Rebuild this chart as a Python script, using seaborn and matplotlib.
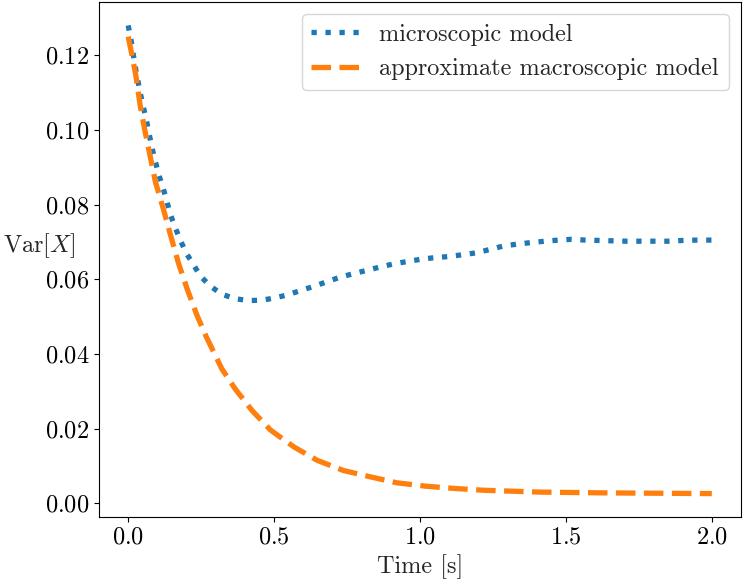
import numpy as np
import pandas as pd
import matplotlib
matplotlib.use("Agg")
import matplotlib.pyplot as plt
import seaborn as sns

# values
micro_t = [0.0, 0.01, 0.024, 0.041, 0.064, 0.081, 0.104, 0.119, 0.132, 0.144,
           0.161, 0.178, 0.199, 0.224, 0.247, 0.281, 0.321, 0.366, 0.412, 0.458,
           0.503, 0.549, 0.595, 0.640, 0.686, 0.732, 0.777, 0.823, 0.869, 0.914,
           0.960, 1.006, 1.051, 1.100, 1.148, 1.194, 1.240, 1.285, 1.331, 1.377,
           1.428, 1.474, 1.519, 1.567, 1.616, 1.662, 1.708, 1.753, 1.805, 1.851,
           1.900, 1.948, 2.0]
micro_var = [0.128, 0.124, 0.117, 0.110, 0.102, 0.0954, 0.0882, 0.0846, 0.0811, 0.0775,
             0.0739, 0.0706, 0.0670, 0.0639, 0.0609, 0.0582, 0.0560, 0.0548, 0.0543, 0.0544,
             0.0550, 0.0559, 0.0571, 0.0582, 0.0595, 0.0607, 0.0616, 0.0625, 0.0634, 0.0642,
             0.0648, 0.0654, 0.0658, 0.0661, 0.0666, 0.0671, 0.0680, 0.0689, 0.0694, 0.0698,
             0.0702, 0.0705, 0.0707, 0.0705, 0.0704, 0.0703, 0.0702, 0.0702, 0.0702, 0.0702,
             0.0704, 0.0705, 0.0705]

macro_t = [0.0, 0.013, 0.026, 0.041, 0.056, 0.075, 0.093, 0.121, 0.146, 0.172,
           0.203, 0.235, 0.267, 0.321, 0.367, 0.425, 0.488, 0.568, 0.648, 0.737,
           0.829, 0.920, 1.017, 1.114, 1.217, 1.41, 1.616, 1.8, 2.0]
macro_var = [0.125, 0.120, 0.1147, 0.1066, 0.1003, 0.0931, 0.0862, 0.0787, 0.0716, 0.0644,
             0.0572, 0.0505, 0.0447, 0.0360, 0.0306, 0.0248, 0.0196, 0.0151, 0.0115, 0.0088,
             0.0071, 0.0055, 0.0046, 0.0040, 0.0035, 0.0030, 0.0028, 0.0027, 0.0026]

# plain matplotlib look, computer modern text
sns.set_style("ticks")
plt.rcParams.update({
    "font.family": ["cmr10", "DejaVu Serif"],
    "mathtext.fontset": "cm",
    "axes.formatter.use_mathtext": True,
    "font.size": 17.5,
    "axes.edgecolor": "black",
    "axes.linewidth": 0.8,
    "xtick.color": "black",
    "ytick.color": "black",
    "xtick.major.width": 0.8,
    "ytick.major.width": 0.8,
})

fig, ax = plt.subplots(figsize=(7.47, 5.84), dpi=100)
fig.subplots_adjust(left=99/747, right=741/747, top=1 - 2/584, bottom=1 - 517/584)

sns.lineplot(x=micro_t, y=micro_var, ax=ax, color="C0", ls=":", lw=3.8,
             label="microscopic model")
sns.lineplot(x=macro_t, y=macro_var, ax=ax, color="C1", ls="--", lw=3.8,
             label="approximate macroscopic model")

ax.set_xlabel("Time [s]")
ax.set_ylabel(r"$\mathrm{Var}[X]$", rotation=0)
ax.set_xticks([0.0, 0.5, 1.0, 1.5, 2.0])
ax.set_yticks([0.00, 0.02, 0.04, 0.06, 0.08, 0.10, 0.12])
ax.legend(loc="upper right", fancybox=True, framealpha=0.8, edgecolor="0.8")

fig.savefig("out.png", dpi=100)
